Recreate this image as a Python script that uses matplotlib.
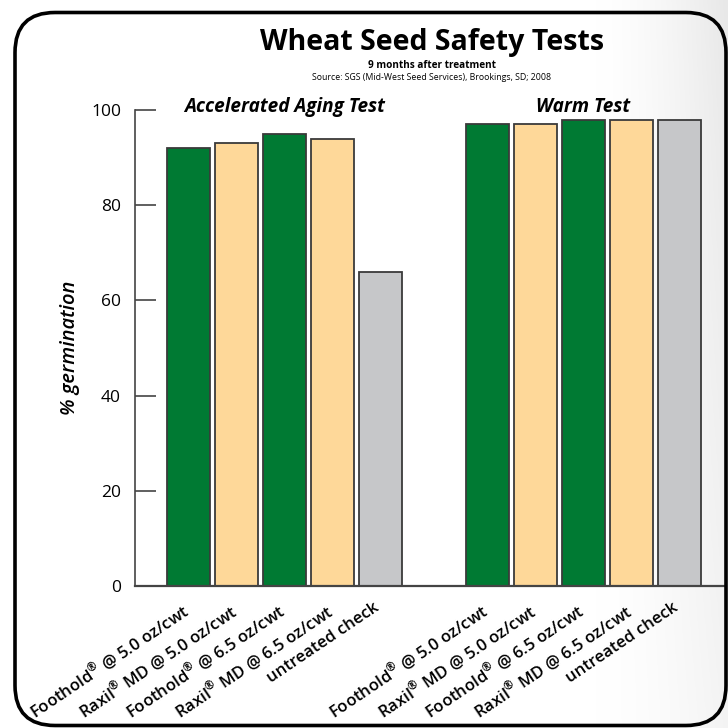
import numpy as np
import matplotlib
matplotlib.use("Agg")
import matplotlib.pyplot as plt
import matplotlib.transforms as mtrans
from matplotlib.patches import FancyBboxPatch

categories = ["Foothold$^{®}$ @ 5.0 oz/cwt", "Raxil$^{®}$ MD @ 5.0 oz/cwt",
              "Foothold$^{®}$ @ 6.5 oz/cwt", "Raxil$^{®}$ MD @ 6.5 oz/cwt",
              "untreated check"]
aging_values = [92, 93, 95, 94, 66]
warm_values = [97, 97, 98, 98, 98]
group_titles = ["Accelerated Aging Test", "Warm Test"]
yticks = [0, 20, 40, 60, 80, 100]
bar_colors = ["#007A33", "#FED899", "#007A33", "#FED899", "#C6C7C9"]

plt.rcParams['font.family'] = ['Open Sans', 'DejaVu Sans']
plt.rcParams['mathtext.fontset'] = 'custom'
plt.rcParams['mathtext.rm'] = 'Open Sans:semibold'

W = 728
fig = plt.figure(figsize=(7.28, 7.28), dpi=100)

# background gradient
bg = fig.add_axes([0, 0, 1, 1], zorder=-10)
xx = np.linspace(0, 1, 300)
yy = np.linspace(0, 1, 300)
X, Y = np.meshgrid(xx, yy)
g = np.clip((X - 0.82) / 0.18, 0, 1) ** 1.5 * (0.5 + 0.5 * Y)
img = 1 - 0.09 * g
bg.imshow(np.dstack([img, img, img]), extent=[0, 1, 0, 1], aspect='auto', origin='lower')
bg.set_xlim(0, 1); bg.set_ylim(0, 1)
bg.axis('off')

box = FancyBboxPatch((15 / W, 2.5 / W), 711 / W, 713 / W,
                     boxstyle="round,pad=0,rounding_size=0.055",
                     transform=fig.transFigure, facecolor='none',
                     edgecolor='black', linewidth=2.6, zorder=5)
fig.patches.append(box)

# axes geometry
unit = 48.0
x0px = 188.5
left_px, right_px = 135, 724
top_px, bot_px = 110, 586
ax = fig.add_axes([left_px / W, (W - bot_px) / W, (right_px - left_px) / W, (bot_px - top_px) / W])
ax.set_xlim(-(x0px - left_px) / unit, (right_px - x0px) / unit)
ax.set_ylim(0, 100)
ax.patch.set_alpha(0)

n = len(categories)
gap = 299.0 / unit
pos1 = np.arange(n)
pos2 = np.arange(n) + gap
bw = 43.0 / unit
ax.bar(pos1, aging_values, width=bw, color=bar_colors, edgecolor='#3a3a3a', linewidth=1.3)
ax.bar(pos2, warm_values, width=bw, color=bar_colors, edgecolor='#3a3a3a', linewidth=1.3)

ax.set_yticks(yticks)
ax.tick_params(axis='y', direction='in', length=15, width=1.2, colors='#444444',
               labelcolor='black', labelsize=12.5, pad=10)
ax.set_xticks(list(pos1) + list(pos2))
labels = ax.set_xticklabels(categories * 2, rotation=34, ha='right', va='top',
                            rotation_mode='anchor', fontsize=12, fontweight='semibold')
ax.tick_params(axis='x', length=0, pad=10)
shift = mtrans.ScaledTranslation(-7 / 100, 0, fig.dpi_scale_trans)
for lab in labels:
    lab.set_transform(lab.get_transform() + shift)

for s in ['top', 'right']:
    ax.spines[s].set_visible(False)
ax.spines['left'].set_color('#444444')
ax.spines['left'].set_linewidth(1.2)
ax.spines['bottom'].set_color('#444444')
ax.spines['bottom'].set_linewidth(1.6)

ax.set_ylabel("% germination", fontsize=14.5, fontweight='semibold', fontstyle='italic', labelpad=8)

ax.text(pos1.mean(), 99.6, group_titles[0], ha='center', va='baseline',
        fontsize=13.7, fontweight='bold', fontstyle='italic')
ax.text(pos2.mean(), 99.6, group_titles[1], ha='center', va='baseline',
        fontsize=13.7, fontweight='bold', fontstyle='italic')

fig.text(432 / W, 1 - 50 / W, "Wheat Seed Safety Tests", ha='center', va='baseline',
         fontsize=20.5, fontweight='bold')
fig.text(432 / W, 1 - 66 / W, "9 months after treatment", ha='center', va='center',
         fontsize=7.2, fontweight='bold')
fig.text(432 / W, 1 - 77 / W, "Source: SGS (Mid-West Seed Services), Brookings, SD; 2008",
         ha='center', va='center', fontsize=6.3)

fig.savefig("out.png", dpi=100)
